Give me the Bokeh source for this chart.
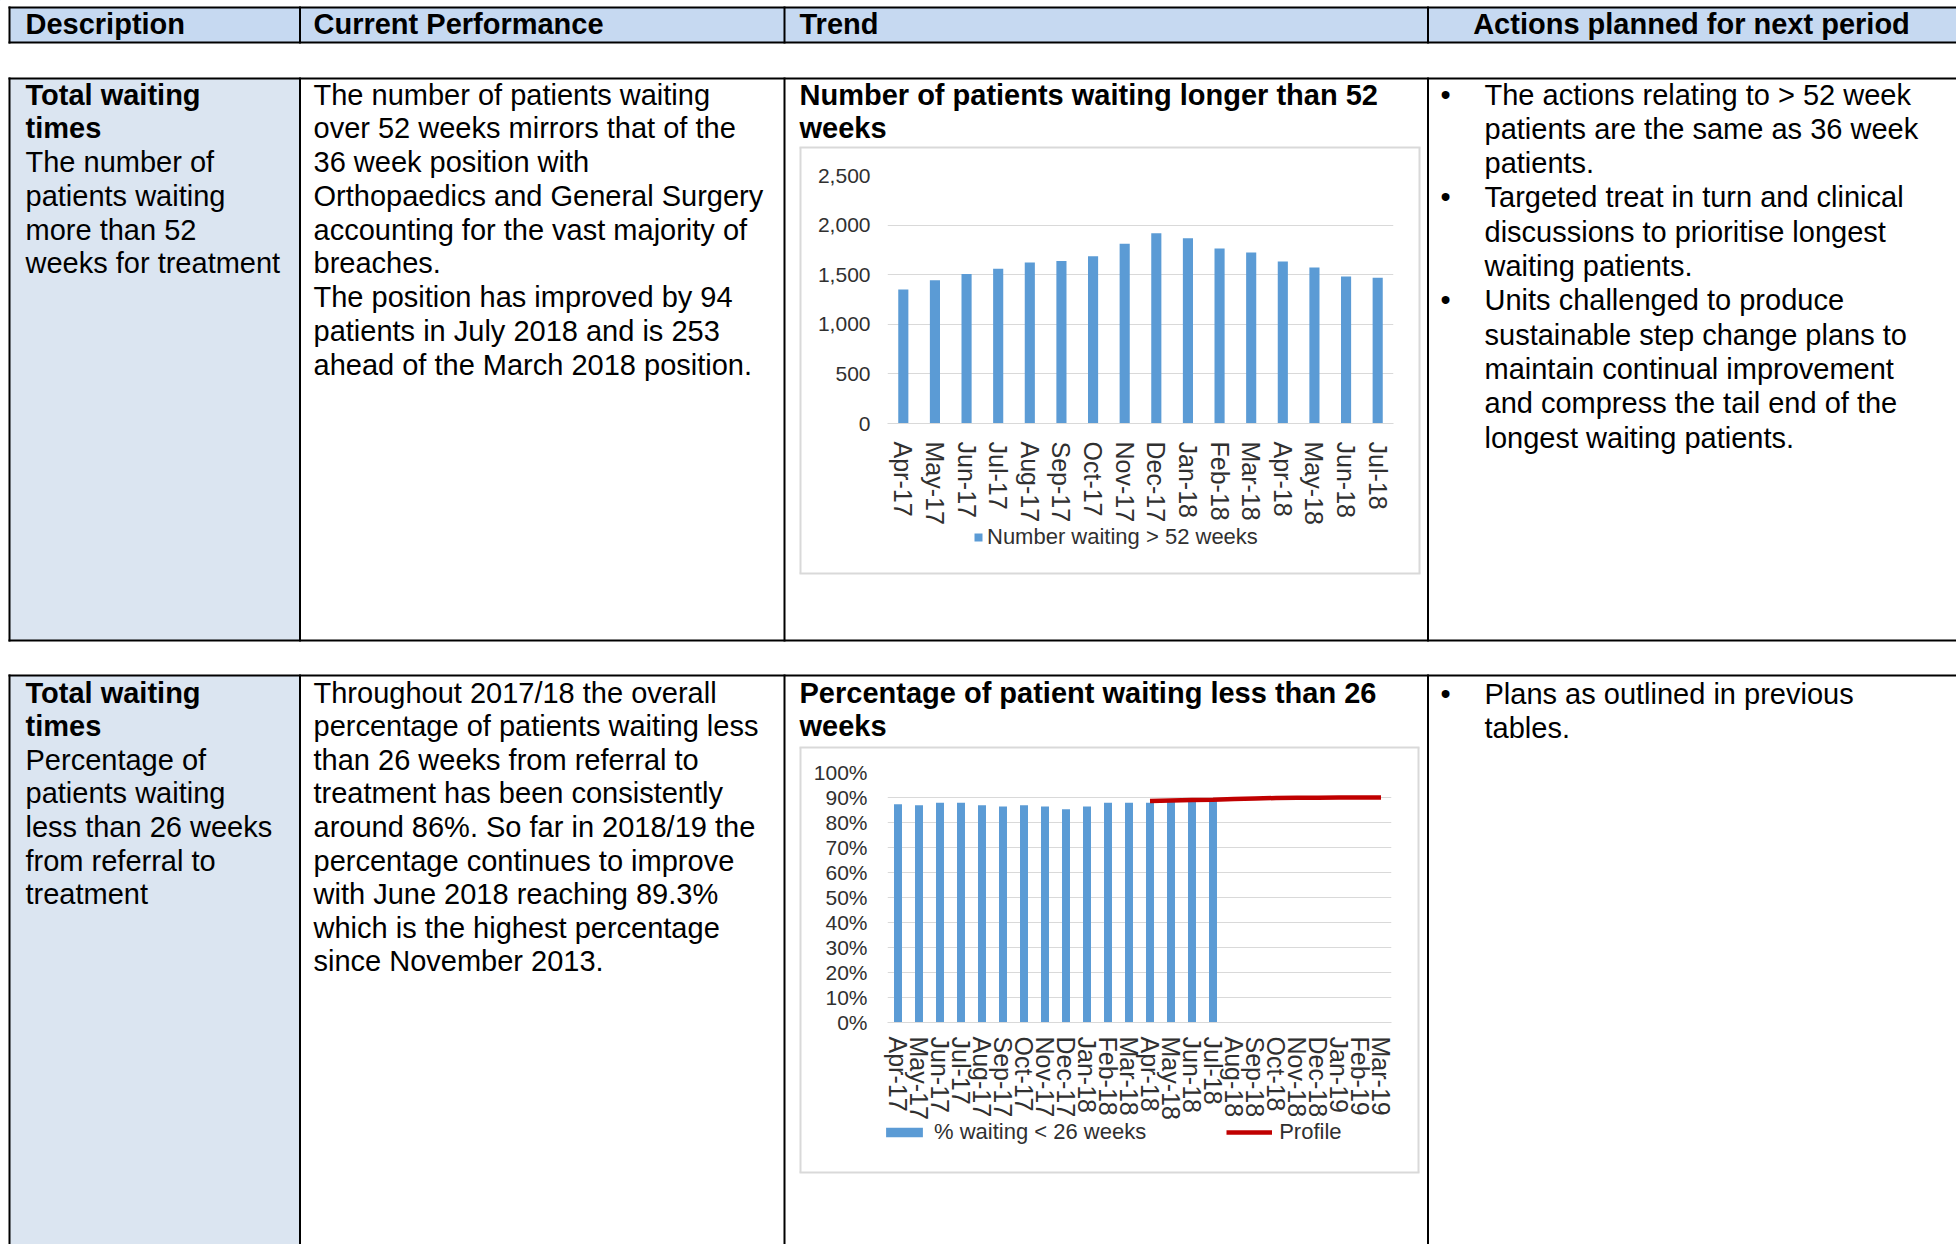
from bokeh.plotting import figure
from bokeh.models import Range1d, FactorRange, FixedTicker, NumeralTickFormatter, Legend, LegendItem
from bokeh.embed import file_html
from bokeh.resources import INLINE
from bokeh.core.properties import value
from bokeh.core.templates import get_env

FONT = "Liberation Sans"

# ---------------- data ----------------
months_52 = ["Apr-17", "May-17", "Jun-17", "Jul-17", "Aug-17", "Sep-17", "Oct-17", "Nov-17",
             "Dec-17", "Jan-18", "Feb-18", "Mar-18", "Apr-18", "May-18", "Jun-18", "Jul-18"]
waiting_52 = [1350, 1443, 1507, 1560, 1623, 1637, 1687, 1813,
              1917, 1867, 1763, 1723, 1633, 1573, 1483, 1470]
y1_ticks = [0, 500, 1000, 1500, 2000, 2500]

months_26 = ["Apr-17", "May-17", "Jun-17", "Jul-17", "Aug-17", "Sep-17", "Oct-17", "Nov-17",
             "Dec-17", "Jan-18", "Feb-18", "Mar-18", "Apr-18", "May-18", "Jun-18", "Jul-18",
             "Aug-18", "Sep-18", "Oct-18", "Nov-18", "Dec-18", "Jan-19", "Feb-19", "Mar-19"]
pct_months = ["Apr-17", "May-17", "Jun-17", "Jul-17", "Aug-17", "Sep-17", "Oct-17", "Nov-17",
              "Dec-17", "Jan-18", "Feb-18", "Mar-18", "Apr-18", "May-18", "Jun-18", "Jul-18"]
pct_26 = [87.3, 86.9, 87.9, 87.9, 86.9, 86.4, 86.9, 86.4,
          85.3, 86.4, 87.9, 87.9, 87.9, 88.5, 89.3, 88.9]
profile_months = ["Apr-18", "May-18", "Jun-18", "Jul-18", "Aug-18", "Sep-18",
                  "Oct-18", "Nov-18", "Dec-18", "Jan-19", "Feb-19", "Mar-19"]
profile = [88.6, 88.8, 89.0, 89.1, 89.4, 89.6, 89.8, 89.9, 89.9, 90.0, 90.0, 90.0]
y2_ticks = [0, 10, 20, 30, 40, 50, 60, 70, 80, 90, 100]
y2_tick_labels = ["0%", "10%", "20%", "30%", "40%", "50%", "60%", "70%", "80%", "90%", "100%"]

legend1_labels = ["Number waiting > 52 weeks"]
legend2_labels = ["% waiting < 26 weeks", "Profile"]

# ---------------- table text ----------------
headers = ["Description", "Current Performance", "Trend", "Actions planned for next period"]
desc1_bold = ["Total waiting", "times"]
desc1 = ["The number of", "patients waiting", "more than 52", "weeks for treatment"]
perf1 = ["The number of patients waiting", "over 52 weeks mirrors that of the",
         "36 week position with", "Orthopaedics and General Surgery",
         "accounting for the vast majority of", "breaches.",
         "The position has improved by 94", "patients in July 2018 and is 253",
         "ahead of the March 2018 position."]
title1 = ["Number of patients waiting longer than 52", "weeks"]
act1 = ["The actions relating to > 52 week", "patients are the same as 36 week", "patients.",
        "Targeted treat in turn and clinical", "discussions to prioritise longest",
        "waiting patients.", "Units challenged to produce",
        "sustainable step change plans to", "maintain continual improvement",
        "and compress the tail end of the", "longest waiting patients."]
act1_bullets = [0, 3, 6]
desc2_bold = ["Total waiting", "times"]
desc2 = ["Percentage of", "patients waiting", "less than 26 weeks", "from referral to", "treatment"]
perf2 = ["Throughout 2017/18 the overall", "percentage of patients waiting less",
         "than 26 weeks from referral to", "treatment has been consistently",
         "around 86%.  So far in 2018/19 the", "percentage continues to improve",
         "with June 2018 reaching 89.3%", "which is the highest percentage",
         "since November 2013."]
title2 = ["Percentage of patient waiting less than 26", "weeks"]
act2 = ["Plans as outlined in previous", "tables."]
act2_bullets = [0]

# ---------------- page geometry (window px) ----------------
PAGE_W, PAGE_H = 1956, 1244
HEAD_T, HEAD_B = 7, 42
R1_T, R1_B = 78, 640
R2_T = 675
VLINES = [9, 299.5, 784, 1427.5]
BOX1 = (800, 147, 1419, 573)
BOX2 = (800, 747, 1418, 1172)
HEAD_FILL = "#C6D9F1"
DESC_FILL = "#DBE5F1"
GREY = "#D9D9D9"
BAR_COLOR = "#5B9BD5"
LINE_COLOR = "#C00000"
LABEL_COLOR = "#303030"

page = figure(width=PAGE_W, height=PAGE_H, x_range=Range1d(0, PAGE_W), y_range=Range1d(PAGE_H, 0),
              x_axis_location=None, y_axis_location=None,
              output_backend="svg", toolbar_location=None, min_border=0, name="page")
page.grid.visible = False
page.outline_line_color = None
page.background_fill_color = "white"
page.border_fill_color = "white"

page.quad(left=[9, 9, 9], right=[2000, 299.5, 299.5], top=[HEAD_T, R1_T, R2_T],
          bottom=[HEAD_B, R1_B, 1300], fill_color=[HEAD_FILL, DESC_FILL, DESC_FILL], line_color=None)
hy = [HEAD_T, HEAD_B, R1_T, R1_B, R2_T]
page.segment(x0=[8] * len(hy), x1=[2000] * len(hy), y0=hy, y1=hy, line_color="black", line_width=2)
spans = [(HEAD_T, HEAD_B), (R1_T, R1_B), (R2_T, 1300)]
vx, vy0, vy1 = [], [], []
for x in VLINES:
    for a, b in spans:
        vx.append(x); vy0.append(a - 1); vy1.append(b + 1)
page.segment(x0=vx, x1=vx, y0=vy0, y1=vy1, line_color="black", line_width=2)
for (bl, bt, br, bb) in (BOX1, BOX2):
    page.segment(x0=[bl, br, bl - 1, bl - 1], x1=[bl, br, br + 1, br + 1], y0=[bt, bt, bt, bb],
                 y1=[bb, bb, bt, bb], line_color=GREY, line_width=2)


def texts(p, x, y0, step, lines, bold=False, align="left"):
    ys = [y0 + i * step for i in range(len(lines))]
    p.text(x=[x] * len(lines), y=ys, text=lines, text_font=value(FONT), text_font_size="29px",
           text_font_style="bold" if bold else "normal", text_baseline="middle",
           text_align=align, text_color="black")


HY = 23.5
texts(page, 25, HY, 0, [headers[0]], bold=True)
texts(page, 313, HY, 0, [headers[1]], bold=True)
texts(page, 799, HY, 0, [headers[2]], bold=True)
texts(page, 1691, HY, 0, [headers[3]], bold=True, align="center")

texts(page, 25, 94, 33.75, desc1_bold, bold=True)
texts(page, 25, 94 + 2 * 33.75, 33.75, desc1)
texts(page, 313, 94, 33.75, perf1)
texts(page, 799, 94, 33.75, title1, bold=True)
texts(page, 1484, 94, 34.3, act1)
texts(page, 1440, 94, 34.3 * 3, ["\u2022"] * len(act1_bullets))

texts(page, 25, 692, 33.6, desc2_bold, bold=True)
texts(page, 25, 692 + 2 * 33.6, 33.6, desc2)
texts(page, 313, 692, 33.6, perf2)
texts(page, 799, 692, 33.75, title2, bold=True)
texts(page, 1484, 693, 34, act2)
texts(page, 1440, 693, 34, ["\u2022"] * len(act2_bullets))

# legend swatches: series styles kept outside the visible page area, used only by the legends
OFF = -100
sw_bar = page.vbar(x=[OFF], top=[OFF], bottom=[OFF - 1], width=1, fill_color=BAR_COLOR, line_color=None)
sw_line = page.line(x=[OFF, OFF - 1], y=[OFF, OFF], line_color=LINE_COLOR, line_width=4.5)
legend_style = dict(orientation="horizontal", border_line_color=None, background_fill_alpha=0,
                    label_text_font=FONT, label_text_font_size="22px", label_text_color=LABEL_COLOR,
                    label_height=24, padding=6, margin=0)
lg1 = Legend(items=[LegendItem(label=legend1_labels[0], renderers=[sw_bar])],
             location=(973, PAGE_H - 550), glyph_width=10, glyph_height=10, label_standoff=4,
             **legend_style)
lg2 = Legend(items=[LegendItem(label=legend2_labels[0], renderers=[sw_bar]),
                    LegendItem(label=legend2_labels[1], renderers=[sw_line])],
             location=(881, PAGE_H - 1145), glyph_width=46, glyph_height=12, label_standoff=7,
             spacing=80, **legend_style)
page.add_layout(lg1)
page.add_layout(lg2)


def style_chart(c, label_standoff, y_standoff):
    c.outline_line_color = None
    c.background_fill_color = "white"
    c.border_fill_color = None
    c.xgrid.visible = False
    c.ygrid.grid_line_color = GREY
    c.ygrid.grid_line_width = 1
    for ax in (c.xaxis[0], c.yaxis[0]):
        ax.major_tick_line_color = None
        ax.minor_tick_line_color = None
        ax.major_tick_out = 0
        ax.major_tick_in = 0
        ax.major_label_text_font = FONT
        ax.major_label_text_color = LABEL_COLOR
    c.xaxis.axis_line_color = GREY
    c.yaxis.axis_line_color = None
    c.xaxis.major_label_orientation = "vertical"
    c.xaxis.major_label_text_font_size = "25px"
    c.xaxis.major_label_standoff = label_standoff
    c.yaxis.major_label_text_font_size = "21px"
    c.yaxis.major_label_standoff = y_standoff


# chart 1: frame x 887..1393, y 175..423 (window)
C1_LEFT, C1_TOP = 801, 148
c1 = figure(frame_width=506, frame_height=248, x_range=FactorRange(*months_52), y_range=Range1d(0, 2500),
            output_backend="svg", toolbar_location=None, name="chart1",
            min_border_left=86, min_border_right=25, min_border_top=27, min_border_bottom=149)
style_chart(c1, 18, 17)
c1.yaxis.ticker = FixedTicker(ticks=y1_ticks)
c1.yaxis.formatter = NumeralTickFormatter(format="0,0")
c1.vbar(x=months_52, top=waiting_52, width=0.32, fill_color=BAR_COLOR, line_color=None)

# chart 2: frame x 887..1391, y 772..1022 (window)
C2_LEFT, C2_TOP = 801, 748
c2 = figure(frame_width=504, frame_height=250, x_range=FactorRange(*months_26), y_range=Range1d(0, 100),
            output_backend="svg", toolbar_location=None, name="chart2",
            min_border_left=86, min_border_right=26, min_border_top=24, min_border_bottom=149)
style_chart(c2, 14, 20)
c2.yaxis.ticker = FixedTicker(ticks=y2_ticks)
c2.yaxis.major_label_overrides = {float(t): lab for t, lab in zip(y2_ticks, y2_tick_labels)}
c2.vbar(x=pct_months, top=pct_26, width=0.38, fill_color=BAR_COLOR, line_color=None)
c2.line(x=profile_months, y=profile, line_color=LINE_COLOR, line_width=4.5)

TEMPLATE = get_env().from_string("""{% from macros import embed with context %}<!DOCTYPE html>
<html lang="en">
  <head>
    <meta charset="utf-8">
    <title>{{ title if title else "Bokeh Plot" }}</title>
    <style>html, body { margin: 0; padding: 0; background: white; overflow: hidden; }</style>
    {{ bokeh_css if bokeh_css }}
    {{ bokeh_js if bokeh_js }}
  </head>
  <body>
    {% for doc in docs %}
    {{ embed(doc) if doc.elementid }}
    {% for root in doc.roots %}
    <div style="position: absolute; {{ positions.get(root.name, '') }}">{{ embed(root) }}</div>
    {% endfor %}
    {% endfor %}
    {{ plot_script }}
  </body>
</html>
""")

positions = {
    "page": "left: 0px; top: 0px;",
    "chart1": "left: %dpx; top: %dpx;" % (C1_LEFT, C1_TOP),
    "chart2": "left: %dpx; top: %dpx;" % (C2_LEFT, C2_TOP),
}

html = file_html([page, c1, c2], INLINE, title="Waiting times", template=TEMPLATE,
                 template_variables={"positions": positions})
open("out.html", "w").write(html)
